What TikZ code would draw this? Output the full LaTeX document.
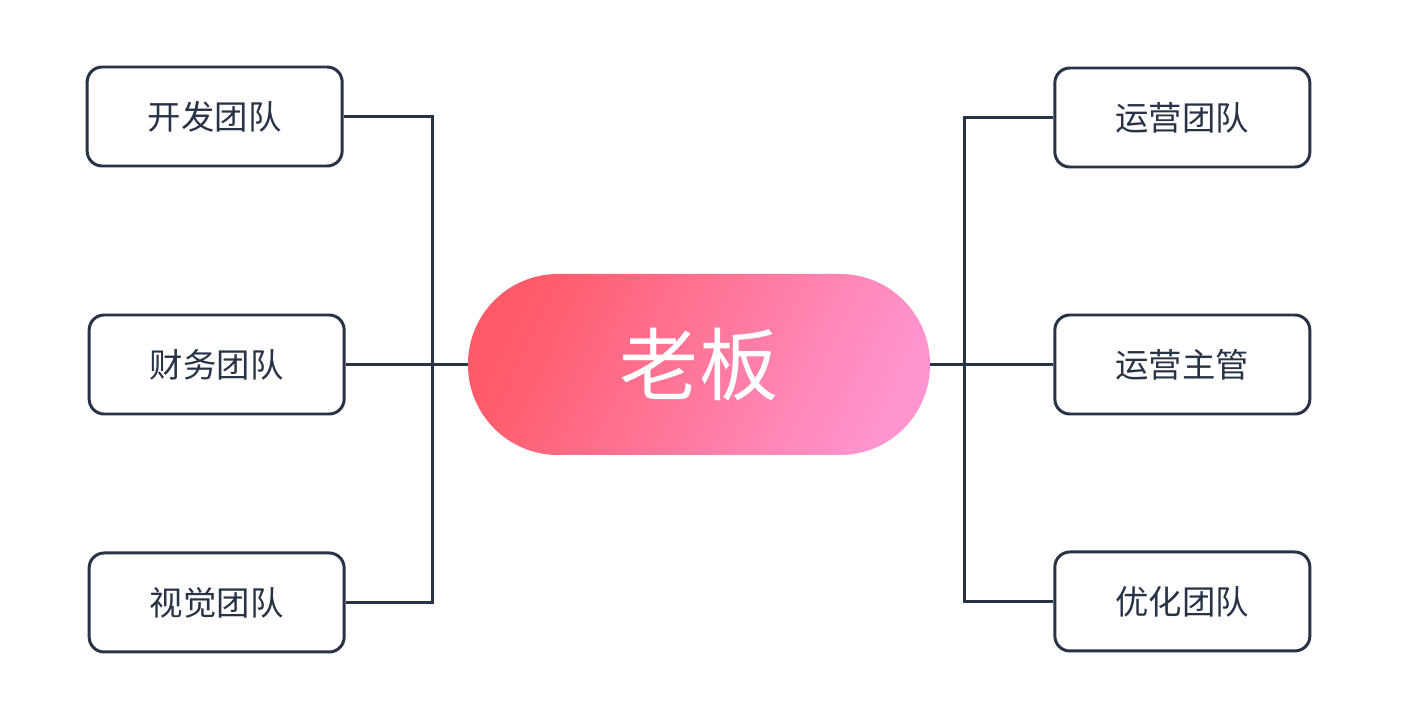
\documentclass[tikz,border=0pt]{standalone}
\usepackage{fontspec}
\setmainfont{Noto Sans CJK SC}
\usepackage{xcolor}
\usetikzlibrary{positioning,calc}
\definecolor{linecol}{HTML}{283445}
\definecolor{bossleft}{HTML}{FF5A68}
\definecolor{bossright}{HTML}{FF94CE}

\begin{document}
\begin{tikzpicture}[
        team/.style={draw=linecol, line width=1.7pt, rectangle, rounded corners=0.3cm, minimum height=1.98cm, minimum width=5.1cm, align=center, text=linecol, font=\fontsize{19}{23}\selectfont},
        boss/.style={rectangle, rounded corners=1.8cm, minimum height=3.62cm, minimum width=9.24cm, left color=bossleft, right color=bossright, shading angle=65, text=white, font=\fontsize{45}{54}\selectfont},
        link/.style={draw=linecol, line width=1.7pt}
    ]
        \useasboundingbox (0,0) rectangle (28.5,14);
        \node [boss] (boss) at (13.98,6.71) {老板};

        \node [team, left=2.44cm of boss] (fin) {财务团队};
        \node [team, above=2.92cm of fin, xshift=-0.04cm] (dev) {开发团队};
        \node [team, below=2.72cm of fin] (vis) {视觉团队};

        \node [team, right=2.46cm of boss] (opm) {运营主管};
        \node [team, above=2.9cm of opm] (ops) {运营团队};
        \node [team, below=2.7cm of opm] (opt) {优化团队};

        \coordinate (jl) at ($(fin.east)!0.71!(boss.west)$);
        \coordinate (jr) at ($(boss.east)!0.28!(opm.west)$);

        \draw [link] (fin.east) -- (boss.west);
        \draw [link] (dev.east) -| (jl) |- (vis.east);
        \draw [link] (boss.east) -- (opm.west);
        \draw [link] (ops.west) -| (jr) |- (opt.west);

    \end{tikzpicture}
\end{document}
